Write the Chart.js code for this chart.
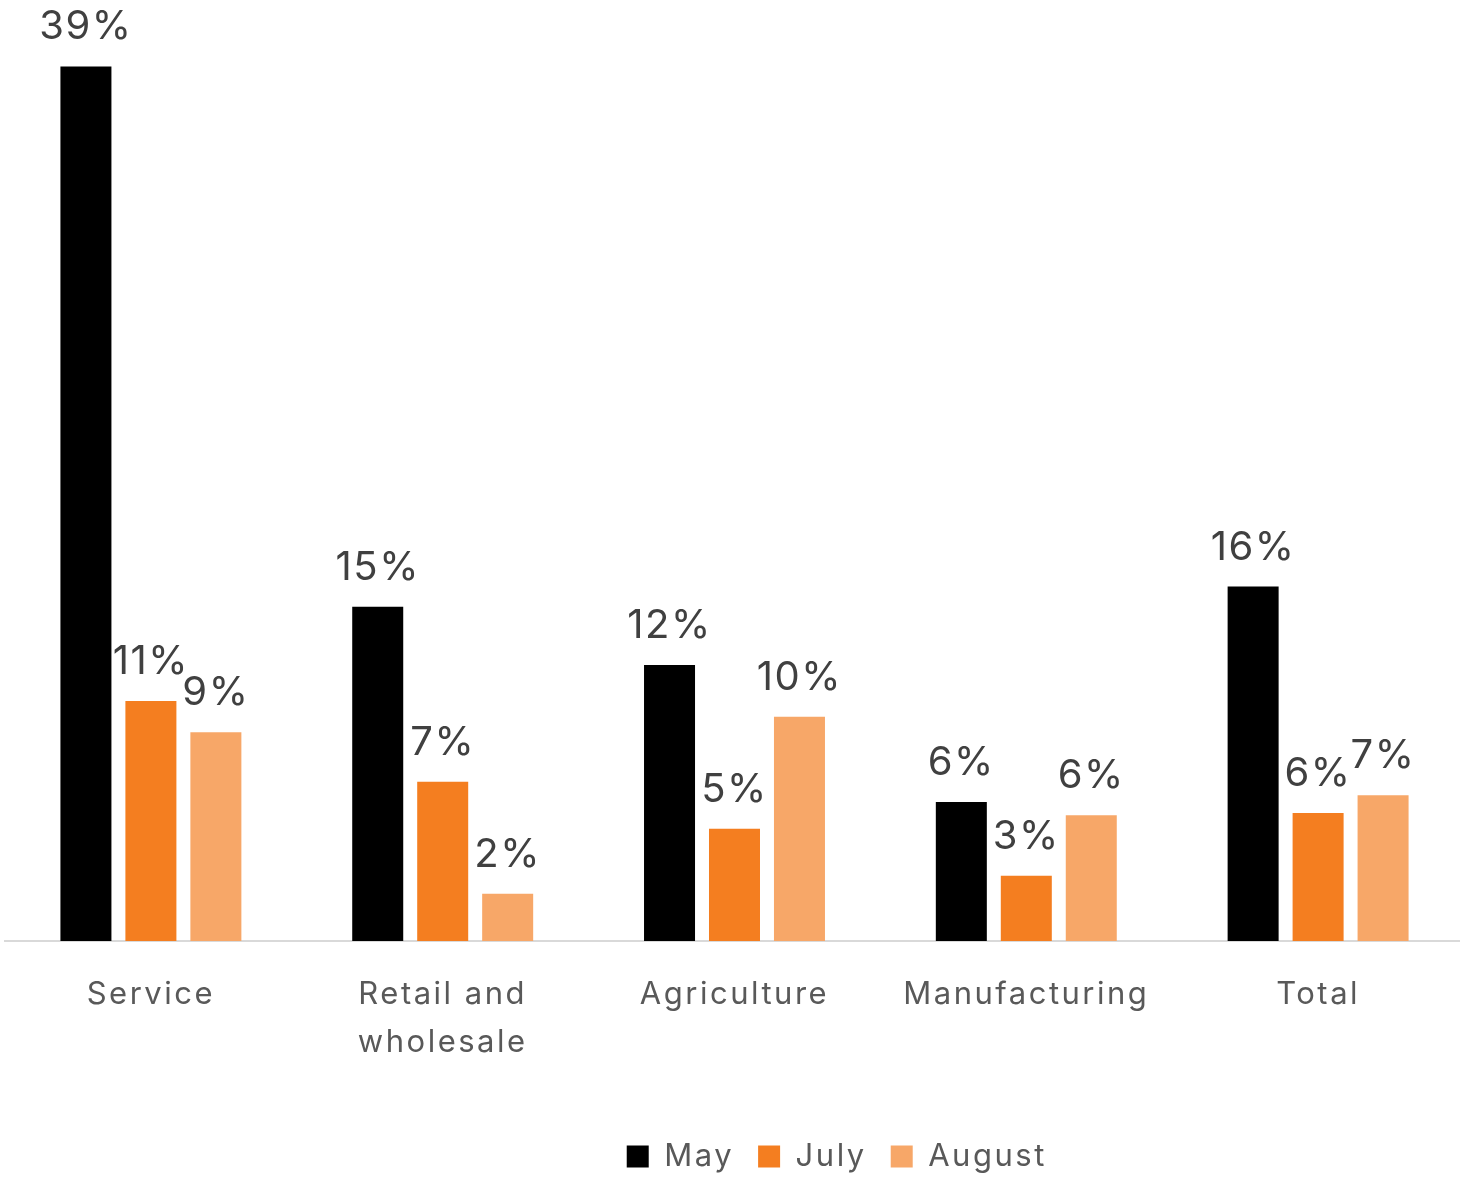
<!DOCTYPE html>
<html>
<head>
<meta charset="utf-8">
<script src="https://cdn.jsdelivr.net/npm/chart.js@4"></script>
<style>
  html, body { margin: 0; padding: 0; background: #fff; overflow: hidden; }
  #wrap { width: 1464px; height: 1182px; }
</style>
</head>
<body>
<div id="wrap"><canvas id="sectorChart"></canvas></div>
<script>
// categories and monthly shares (percent)
const sectors = ['Service', ['Retail and', 'wholesale'], 'Agriculture', 'Manufacturing', 'Total'];
const mayValues = [39, 14.9, 12.3, 6.2, 15.8];
const julyValues = [10.7, 7.1, 5.0, 2.9, 5.7];
const augustValues = [9.3, 2.1, 10.0, 5.6, 6.5];

const FONT = 'Inter, "Noto Sans", sans-serif';

// percent labels above each bar
const valueLabels = {
  id: 'valueLabels',
  afterDatasetsDraw(chart) {
    const ctx = chart.ctx;
    ctx.save();
    ctx.letterSpacing = '1.5px';
    ctx.font = '40px ' + FONT;
    ctx.fillStyle = '#404040';
    ctx.textAlign = 'center';
    ctx.textBaseline = 'alphabetic';
    chart.data.datasets.forEach((ds, i) => {
      chart.getDatasetMeta(i).data.forEach((bar, j) => {
        ctx.fillText(Math.round(ds.data[j]) + '%', bar.x, bar.y - 27);
      });
    });
    ctx.restore();
  }
};

// wider letter spacing for axis and legend text
const spacing = {
  id: 'spacing',
  beforeDraw(chart) { chart.ctx.letterSpacing = '2.5px'; }
};

// legend sits a bit right of centre
const legendShift = {
  id: 'legendShift',
  afterLayout(chart) {
    chart.legend.left += 86;
    chart.legend.right += 86;
  }
};

const ctx = document.getElementById('sectorChart').getContext('2d');
new Chart(ctx, {
  type: 'bar',
  data: {
    labels: sectors,
    datasets: [
      { label: 'May', data: mayValues, backgroundColor: '#000000' },
      { label: 'July', data: julyValues, backgroundColor: '#F47E20' },
      { label: 'August', data: augustValues, backgroundColor: '#F7A768' }
    ]
  },
  options: {
    responsive: true,
    maintainAspectRatio: false,
    animation: false,
    categoryPercentage: 0.668,
    barPercentage: 0.785,
    layout: { padding: { top: 44, left: 5, right: 0, bottom: 0 } },
    scales: {
      x: {
        grid: { display: false },
        border: { display: true, color: '#D9D9D9', width: 2 },
        ticks: {
          color: '#595959',
          font: { family: FONT, size: 31, lineHeight: 1.55 },
          padding: 22,
          maxRotation: 0
        },
        afterFit(scale) { scale.height += 28; }
      },
      y: {
        display: false,
        min: 0,
        max: 40
      }
    },
    plugins: {
      legend: {
        position: 'bottom',
        labels: {
          color: '#595959',
          font: { family: FONT, size: 31 },
          boxWidth: 22,
          boxHeight: 22,
          padding: 24
        }
      },
      tooltip: { enabled: false }
    }
  },
  plugins: [valueLabels, spacing, legendShift]
});
</script>
</body>
</html>
